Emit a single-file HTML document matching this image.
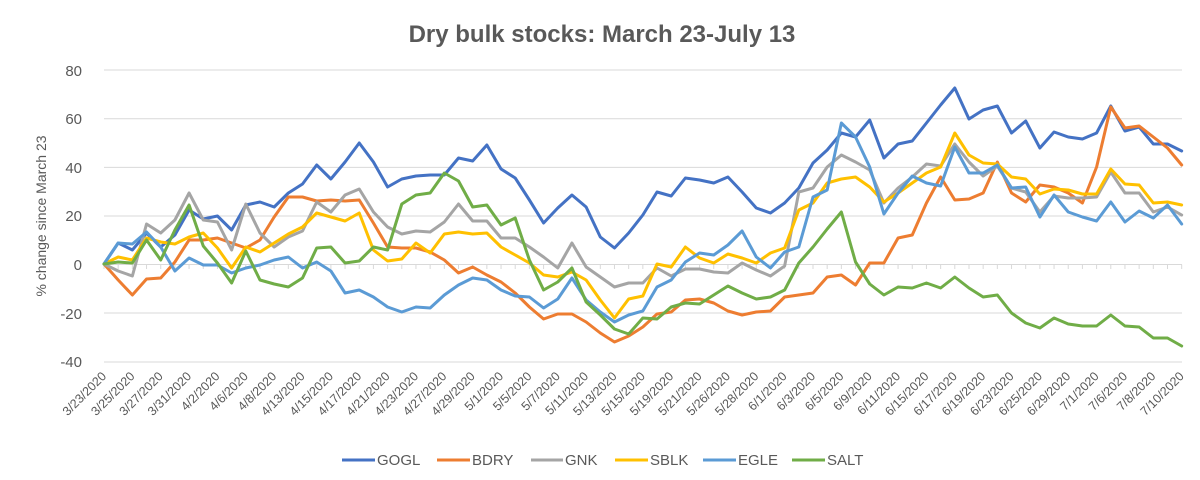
<!DOCTYPE html>
<html><head><meta charset="utf-8"><style>
html,body{margin:0;padding:0;background:#fff;}
svg{display:block;font-family:"Liberation Sans",sans-serif;}
</style></head><body>
<svg width="1200" height="480" viewBox="0 0 1200 480" xmlns="http://www.w3.org/2000/svg">
<rect width="1200" height="480" fill="#fff"/>
<text x="602" y="42" text-anchor="middle" font-size="24" font-weight="bold" fill="#595959">Dry bulk stocks: March 23-July 13</text>
<g stroke="#d9d9d9" stroke-width="1">
<line x1="104" y1="70" x2="1182" y2="70"/><line x1="104" y1="118.7" x2="1182" y2="118.7"/>
<line x1="104" y1="167.4" x2="1182" y2="167.4"/><line x1="104" y1="216" x2="1182" y2="216"/>
<line x1="104" y1="264.5" x2="1182" y2="264.5"/><line x1="104" y1="313" x2="1182" y2="313"/>
<line x1="104" y1="362" x2="1182" y2="362"/>
</g>
<g stroke="#d9d9d9" stroke-width="1" transform="translate(104,0) scale(14.18,1)">
<path vector-effect="non-scaling-stroke" d="M0,264.5V269M1,264.5V269M2,264.5V269M3,264.5V269M4,264.5V269M5,264.5V269M6,264.5V269M7,264.5V269M8,264.5V269M9,264.5V269M10,264.5V269M11,264.5V269M12,264.5V269M13,264.5V269M14,264.5V269M15,264.5V269M16,264.5V269M17,264.5V269M18,264.5V269M19,264.5V269M20,264.5V269M21,264.5V269M22,264.5V269M23,264.5V269M24,264.5V269M25,264.5V269M26,264.5V269M27,264.5V269M28,264.5V269M29,264.5V269M30,264.5V269M31,264.5V269M32,264.5V269M33,264.5V269M34,264.5V269M35,264.5V269M36,264.5V269M37,264.5V269M38,264.5V269M39,264.5V269M40,264.5V269M41,264.5V269M42,264.5V269M43,264.5V269M44,264.5V269M45,264.5V269M46,264.5V269M47,264.5V269M48,264.5V269M49,264.5V269M50,264.5V269M51,264.5V269M52,264.5V269M53,264.5V269M54,264.5V269M55,264.5V269M56,264.5V269M57,264.5V269M58,264.5V269M59,264.5V269M60,264.5V269M61,264.5V269M62,264.5V269M63,264.5V269M64,264.5V269M65,264.5V269M66,264.5V269M67,264.5V269M68,264.5V269M69,264.5V269M70,264.5V269M71,264.5V269M72,264.5V269M73,264.5V269M74,264.5V269M75,264.5V269M76,264.5V269"/>
</g>
<g font-size="15" fill="#595959" text-anchor="end">
<text x="82" y="76">80</text><text x="82" y="124">60</text><text x="82" y="173">40</text>
<text x="82" y="221">20</text><text x="82" y="270">0</text><text x="82" y="319">-20</text><text x="82" y="367">-40</text>
</g>
<text transform="translate(46,216) rotate(-90)" text-anchor="middle" font-size="14" fill="#595959">% change since March 23</text>
<g fill="none" stroke-width="3" stroke-linejoin="round" stroke-linecap="round" transform="translate(104,0) scale(14.18,1)">
<polyline vector-effect="non-scaling-stroke" stroke="#4472C4" points="0,264 1,243 2,250 3,233 4,247 5,235 6,210 7,219 8,216 9,230 10,205 11,202 12,207 13,193 14,184 15,165 16,179 17,162 18,143 19,162 20,187 21,179 22,176 23,175 24,175 25,158 26,161 27,145 28,169 29,178 30,200 31,223 32,208 33,195 34,207 35,237 36,248 37,233 38,215 39,192 40,196 41,178 42,180 43,183 44,177 45,192 46,208 47,213 48,203 49,188 50,163 51,150 52,133 53,137 54,120 55,158 56,144 57,141 58,123 59,105 60,88 61,119 62,110 63,106 64,133 65,121 66,148 67,132 68,137 69,139 70,133 71,106 72,131 73,127 74,144 75,144 76,151"/>
<polyline vector-effect="non-scaling-stroke" stroke="#ED7D31" points="0,264 1,280 2,295 3,279 4,278 5,262 6,240 7,240 8,238 9,243 10,248 11,240 12,217 13,197 14,197 15,201 16,200 17,201 18,200 19,223 20,247 21,248 22,248 23,252 24,260 25,273 26,267 27,275 28,282 29,293 30,307 31,319 32,314 33,314 34,322 35,333 36,342 37,336 38,327 39,314 40,312 41,300 42,299 43,303 44,311 45,315 46,312 47,311 48,297 49,295 50,293 51,277 52,275 53,285 54,263 55,263 56,238 57,235 58,203 59,177 60,200 61,199 62,193 63,162 64,193 65,202 66,185 67,187 68,193 69,203 70,167 71,107 72,128 73,126 74,137 75,148 76,165"/>
<polyline vector-effect="non-scaling-stroke" stroke="#A5A5A5" points="0,264 1,271 2,276 3,224 4,233 5,220 6,193 7,220 8,222 9,250 10,204 11,233 12,247 13,237 14,231 15,202 16,212 17,195 18,189 19,212 20,227 21,234 22,231 23,232 24,222 25,204 26,221 27,221 28,238 29,238 30,247 31,257 32,268 33,243 34,267 35,277 36,287 37,283 38,283 39,268 40,276 41,269 42,269 43,272 44,273 45,263 46,270 47,276 48,266 49,192 50,188 51,167 52,155 53,162 54,170 55,203 56,188 57,177 58,164 59,166 60,144 61,162 62,176 63,166 64,188 65,192 66,212 67,196 68,198 69,198 70,197 71,172 72,193 73,193 74,212 75,207 76,215"/>
<polyline vector-effect="non-scaling-stroke" stroke="#FFC000" points="0,264 1,257 2,260 3,238 4,242 5,244 6,237 7,233 8,248 9,268 10,247 11,252 12,243 13,234 14,227 15,213 16,217 17,221 18,213 19,250 20,261 21,259 22,243 23,253 24,234 25,232 26,234 27,233 28,247 29,255 30,263 31,275 32,277 33,272 34,280 35,300 36,318 37,299 38,296 39,264 40,267 41,247 42,258 43,263 44,254 45,258 46,263 47,253 48,248 49,210 50,203 51,183 52,179 53,177 54,187 55,202 56,193 57,183 58,173 59,167 60,133 61,155 62,163 63,164 64,177 65,179 66,194 67,189 68,190 69,194 70,194 71,169 72,184 73,185 74,203 75,202 76,205"/>
<polyline vector-effect="non-scaling-stroke" stroke="#5B9BD5" points="0,264 1,243 2,244 3,232 4,247 5,271 6,258 7,265 8,265 9,273 10,268 11,265 12,260 13,257 14,268 15,262 16,271 17,293 18,290 19,297 20,307 21,312 22,307 23,308 24,295 25,285 26,278 27,280 28,290 29,296 30,297 31,308 32,299 33,278 34,300 35,312 36,322 37,315 38,311 39,287 40,280 41,262 42,253 43,255 44,245 45,231 46,257 47,268 48,252 49,247 50,197 51,190 52,123 53,137 54,167 55,214 56,193 57,176 58,183 59,186 60,147 61,173 62,173 63,165 64,188 65,187 66,217 67,195 68,212 69,217 70,221 71,202 72,222 73,211 74,218 75,205 76,224"/>
<polyline vector-effect="non-scaling-stroke" stroke="#70AD47" points="0,264 1,262 2,263 3,240 4,260 5,230 6,205 7,246 8,263 9,283 10,251 11,280 12,284 13,287 14,278 15,248 16,247 17,263 18,261 19,247 20,250 21,204 22,195 23,193 24,173 25,181 26,207 27,205 28,225 29,218 30,260 31,290 32,282 33,268 34,302 35,315 36,329 37,334 38,318 39,319 40,307 41,303 42,304 43,295 44,286 45,293 46,299 47,297 48,290 49,263 50,247 51,229 52,212 53,262 54,284 55,295 56,287 57,288 58,283 59,288 60,277 61,288 62,297 63,295 64,313 65,323 66,328 67,318 68,324 69,326 70,326 71,315 72,326 73,327 74,338 75,338 76,346"/>
</g>
<g font-size="12.5" fill="#595959" text-anchor="end">
<text transform="translate(107,377) rotate(-45)">3/23/2020</text>
<text transform="translate(135.4,377) rotate(-45)">3/25/2020</text>
<text transform="translate(163.7,377) rotate(-45)">3/27/2020</text>
<text transform="translate(192.1,377) rotate(-45)">3/31/2020</text>
<text transform="translate(220.4,377) rotate(-45)">4/2/2020</text>
<text transform="translate(248.8,377) rotate(-45)">4/6/2020</text>
<text transform="translate(277.2,377) rotate(-45)">4/8/2020</text>
<text transform="translate(305.5,377) rotate(-45)">4/13/2020</text>
<text transform="translate(333.9,377) rotate(-45)">4/15/2020</text>
<text transform="translate(362.2,377) rotate(-45)">4/17/2020</text>
<text transform="translate(390.6,377) rotate(-45)">4/21/2020</text>
<text transform="translate(419,377) rotate(-45)">4/23/2020</text>
<text transform="translate(447.3,377) rotate(-45)">4/27/2020</text>
<text transform="translate(475.7,377) rotate(-45)">4/29/2020</text>
<text transform="translate(504,377) rotate(-45)">5/1/2020</text>
<text transform="translate(532.4,377) rotate(-45)">5/5/2020</text>
<text transform="translate(560.8,377) rotate(-45)">5/7/2020</text>
<text transform="translate(589.1,377) rotate(-45)">5/11/2020</text>
<text transform="translate(617.5,377) rotate(-45)">5/13/2020</text>
<text transform="translate(645.8,377) rotate(-45)">5/15/2020</text>
<text transform="translate(674.2,377) rotate(-45)">5/19/2020</text>
<text transform="translate(702.6,377) rotate(-45)">5/21/2020</text>
<text transform="translate(730.9,377) rotate(-45)">5/26/2020</text>
<text transform="translate(759.3,377) rotate(-45)">5/28/2020</text>
<text transform="translate(787.6,377) rotate(-45)">6/1/2020</text>
<text transform="translate(816,377) rotate(-45)">6/3/2020</text>
<text transform="translate(844.4,377) rotate(-45)">6/5/2020</text>
<text transform="translate(872.7,377) rotate(-45)">6/9/2020</text>
<text transform="translate(901.1,377) rotate(-45)">6/11/2020</text>
<text transform="translate(929.4,377) rotate(-45)">6/15/2020</text>
<text transform="translate(957.8,377) rotate(-45)">6/17/2020</text>
<text transform="translate(986.2,377) rotate(-45)">6/19/2020</text>
<text transform="translate(1014.5,377) rotate(-45)">6/23/2020</text>
<text transform="translate(1042.9,377) rotate(-45)">6/25/2020</text>
<text transform="translate(1071.2,377) rotate(-45)">6/29/2020</text>
<text transform="translate(1099.6,377) rotate(-45)">7/1/2020</text>
<text transform="translate(1128,377) rotate(-45)">7/6/2020</text>
<text transform="translate(1156.3,377) rotate(-45)">7/8/2020</text>
<text transform="translate(1184.7,377) rotate(-45)">7/10/2020</text>
</g>
<g stroke-width="3" font-size="15" fill="#595959">
<line x1="342" y1="460" x2="375" y2="460" stroke="#4472C4"/><text x="377" y="465">GOGL</text>
<line x1="437" y1="460" x2="470" y2="460" stroke="#ED7D31"/><text x="472" y="465">BDRY</text>
<line x1="531" y1="460" x2="563" y2="460" stroke="#A5A5A5"/><text x="565" y="465">GNK</text>
<line x1="615" y1="460" x2="648" y2="460" stroke="#FFC000"/><text x="650" y="465">SBLK</text>
<line x1="703" y1="460" x2="736" y2="460" stroke="#5B9BD5"/><text x="738" y="465">EGLE</text>
<line x1="792" y1="460" x2="825" y2="460" stroke="#70AD47"/><text x="827" y="465">SALT</text>
</g>
</svg>
</body></html>
